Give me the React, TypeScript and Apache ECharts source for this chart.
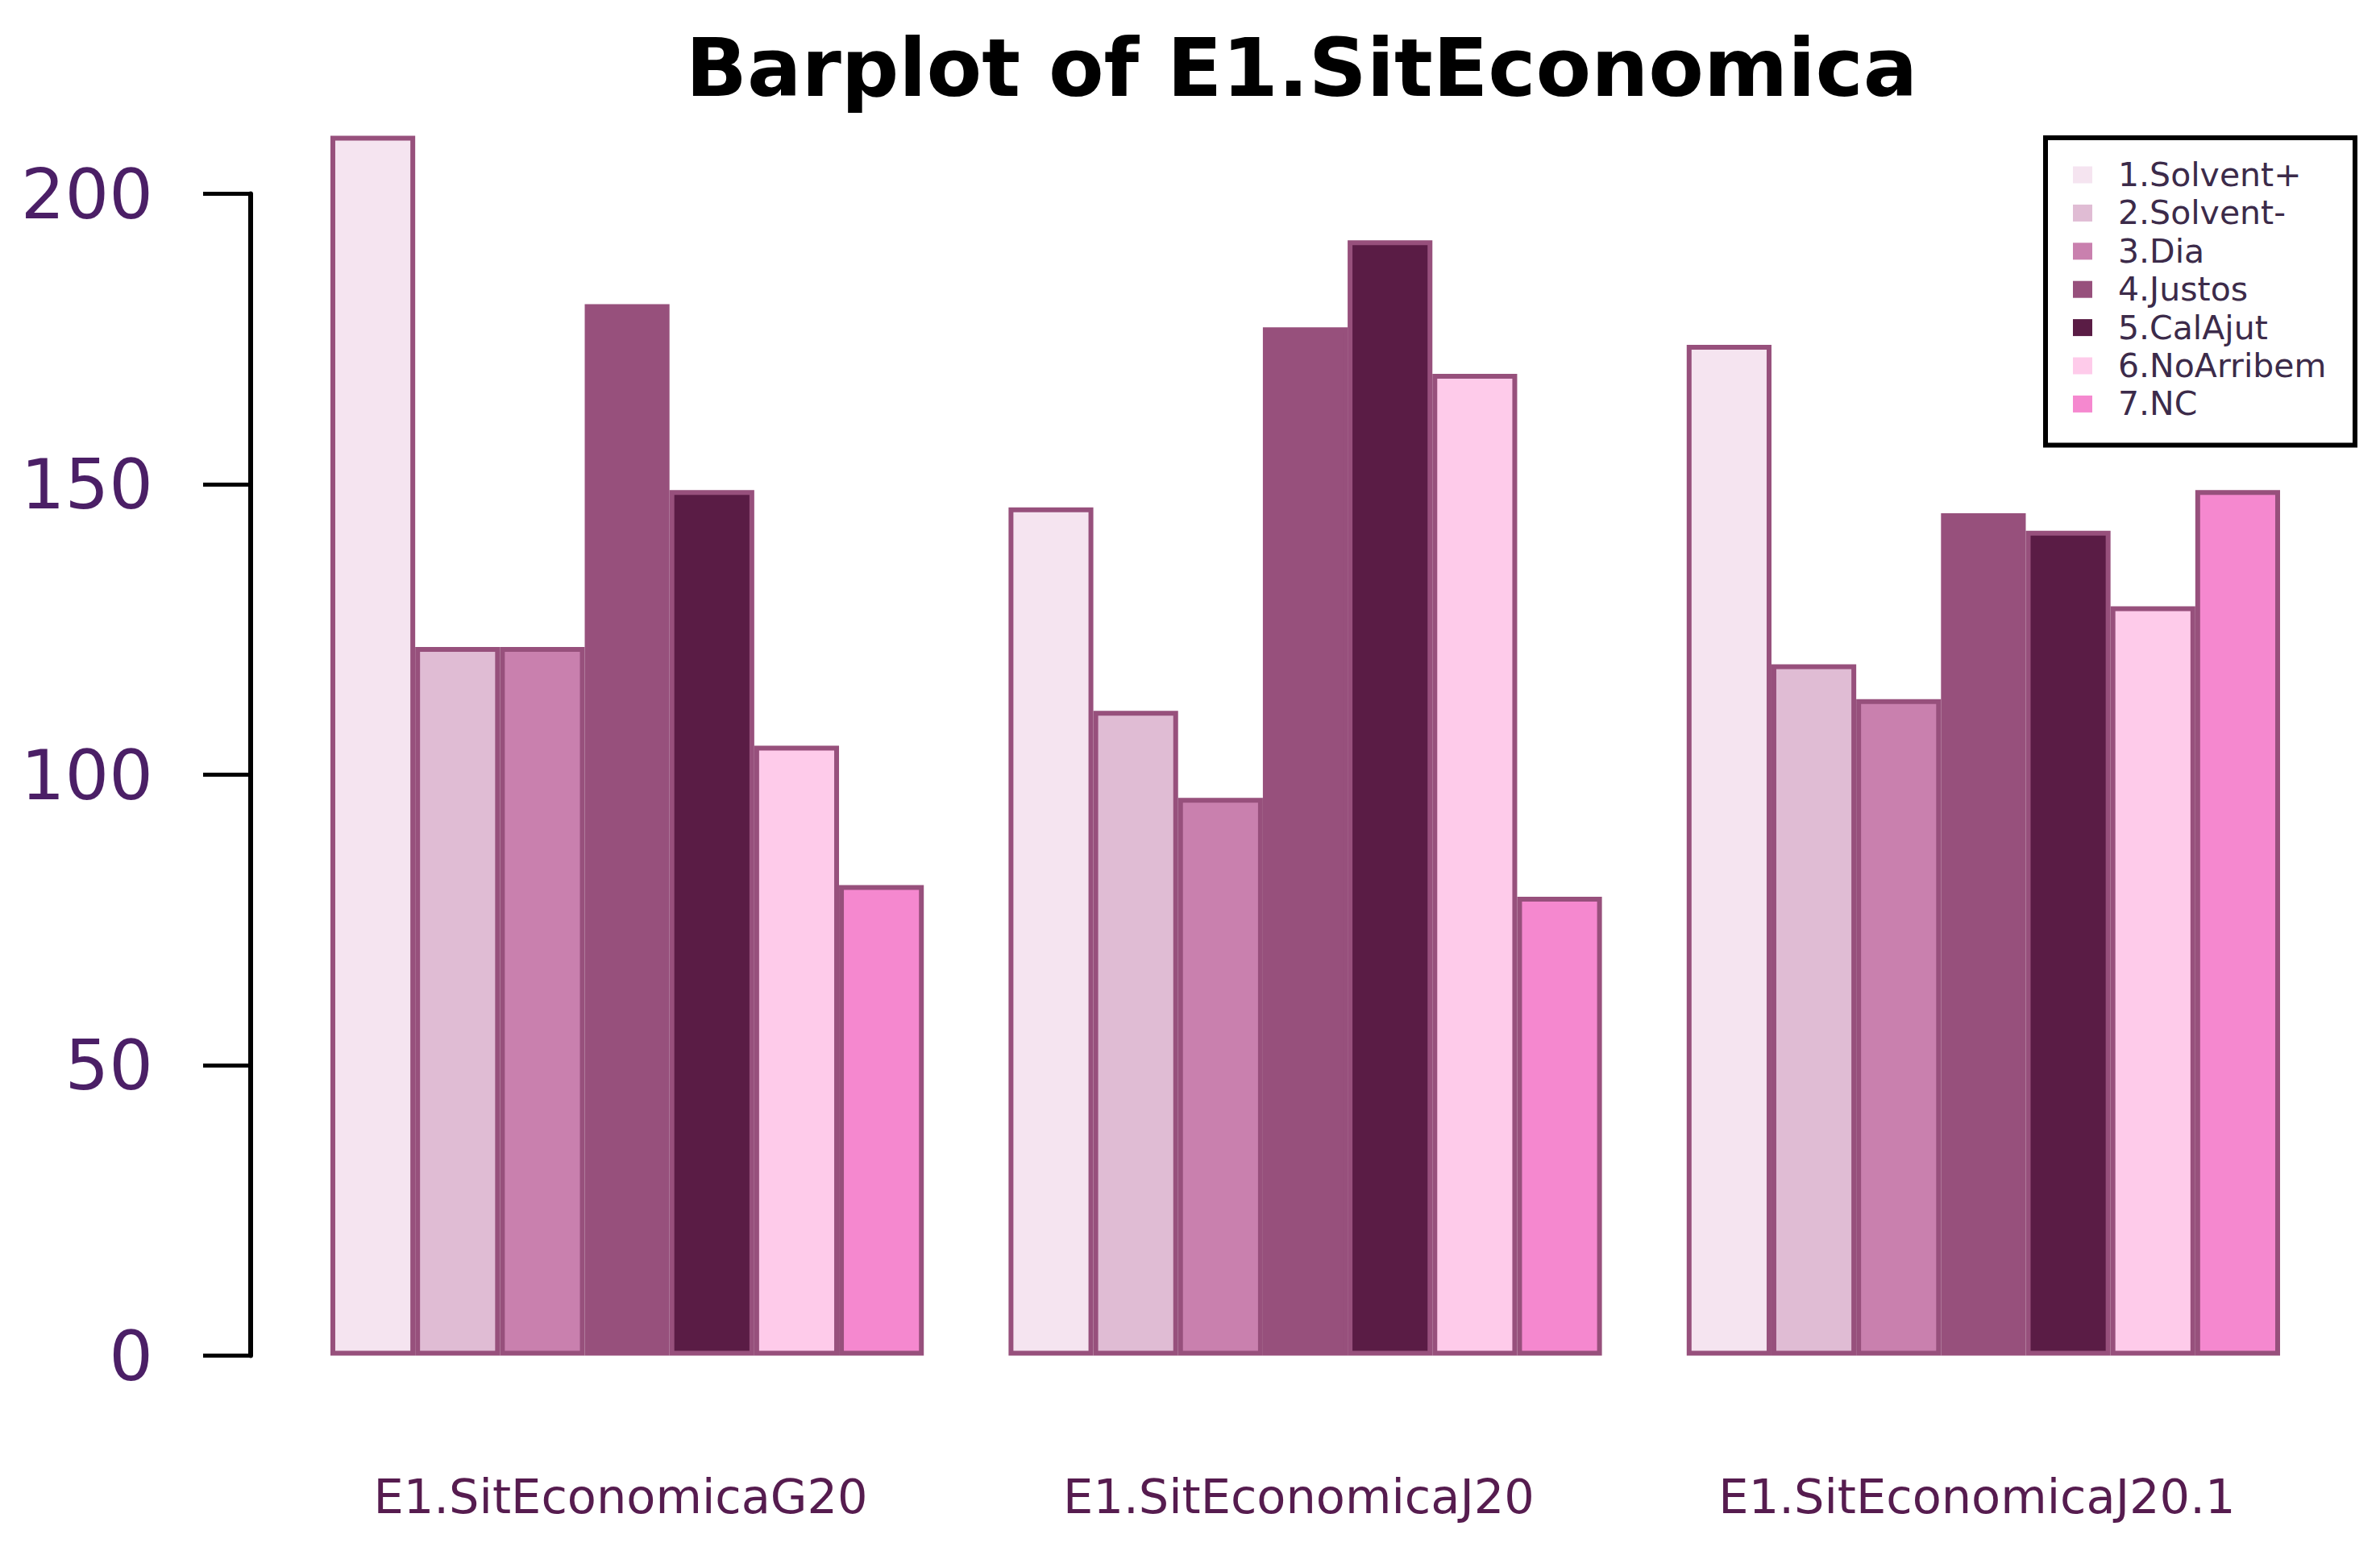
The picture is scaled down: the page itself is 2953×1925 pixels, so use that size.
import React, { useEffect, useRef } from "react";
import * as echarts from "echarts";

const categories = ["E1.SitEconomicaG20", "E1.SitEconomicaJ20", "E1.SitEconomicaJ20.1"];
const levels = ["1.Solvent+", "2.Solvent-", "3.Dia", "4.Justos", "5.CalAjut", "6.NoArribem", "7.NC"];
const g20 = [210, 122, 122, 181, 149, 105, 81];
const j20 = [146, 111, 96, 177, 192, 169, 79];
const j20_1 = [174, 119, 113, 145, 142, 129, 149];
const colors = ["#f5e4f0", "#e0bcd4", "#c980ae", "#97507c", "#5a1c45", "#fecbea", "#f588cf"];
const yAxisMax = 200;
const yAxisStep = 50;
const titleText = "Barplot of E1.SitEconomica";

const FONT = '"DejaVu Sans", "Liberation Sans", sans-serif';

export default function App() {
  const ref = useRef<HTMLDivElement>(null);
  useEffect(() => {
    if (!ref.current) return;
    const chart = echarts.init(ref.current, null, { renderer: "svg" });
    const groups = [g20, j20, j20_1];
    const series = levels.map((name, i) => ({
      type: "bar",
      name,
      xAxisIndex: 0,
      yAxisIndex: 0,
      data: groups.map((g) => g[i]),
      barGap: "0%",
      barCategoryGap: "12.5%",
      itemStyle: { color: colors[i], borderColor: "#97507c", borderWidth: 6 },
      emphasis: { disabled: true },
    }));
    chart.setOption({
      animation: false,
      backgroundColor: "#ffffff",
      title: {
        text: titleText,
        left: 1615,
        top: 34,
        textAlign: "center",
        padding: 0,
        textStyle: {
          fontFamily: FONT,
          fontWeight: "bold",
          fontSize: 100,
          lineHeight: 100,
          color: "#000000",
        },
      },
      legend: {
        data: levels,
        orient: "vertical",
        left: 2572,
        top: 193,
        padding: 0,
        itemWidth: 24,
        itemHeight: 21,
        itemGap: -0.6,
        icon: "rect",
        itemStyle: { borderWidth: 0 },
        selectedMode: false,
        textStyle: {
          fontFamily: FONT,
          fontSize: 41,
          lineHeight: 40,
          color: "#3c2b4a",
          padding: [8, 0, 0, 27],
        },
      },
      graphic: [
        {
          type: "rect",
          shape: { x: 2538, y: 171, width: 384, height: 381.5 },
          style: { fill: "none", stroke: "#000000", lineWidth: 6 },
          silent: true,
        },
      ],
      grid: [
        { left: 357.4, width: 2524.2, top: 96.3, bottom: 242.5, containLabel: false },
        { left: 311, width: 100, top: 240.5, bottom: 242.5, containLabel: false },
      ],
      xAxis: [
        {
          type: "category",
          gridIndex: 0,
          data: categories,
          axisLine: { show: false },
          axisTick: { show: false },
          splitLine: { show: false },
          axisLabel: {
            interval: 0,
            margin: 175,
            verticalAlign: "middle",
            fontFamily: FONT,
            fontSize: 59,
            color: "#561c4f",
            padding: [0, 16, 0, 0],
          },
        },
        { type: "value", gridIndex: 1, show: false },
      ],
      yAxis: [
        { type: "value", gridIndex: 0, min: 0, max: 220, show: false },
        {
          type: "value",
          gridIndex: 1,
          min: 0,
          max: yAxisMax,
          interval: yAxisStep,
          axisLine: { show: true, lineStyle: { color: "#000000", width: 6 } },
          axisTick: { show: true, length: 59, lineStyle: { color: "#000000", width: 5 } },
          splitLine: { show: false },
          axisLabel: {
            margin: 121,
            fontFamily: FONT,
            fontSize: 86,
            color: "#4b1f66",
          },
        },
      ],
      series,
    });
    return () => chart.dispose();
  }, []);
  return (
    <div
      ref={ref}
      style={{ position: "fixed", left: 0, top: 0, width: "2953px", height: "1925px", background: "#fff" }}
    />
  );
}
